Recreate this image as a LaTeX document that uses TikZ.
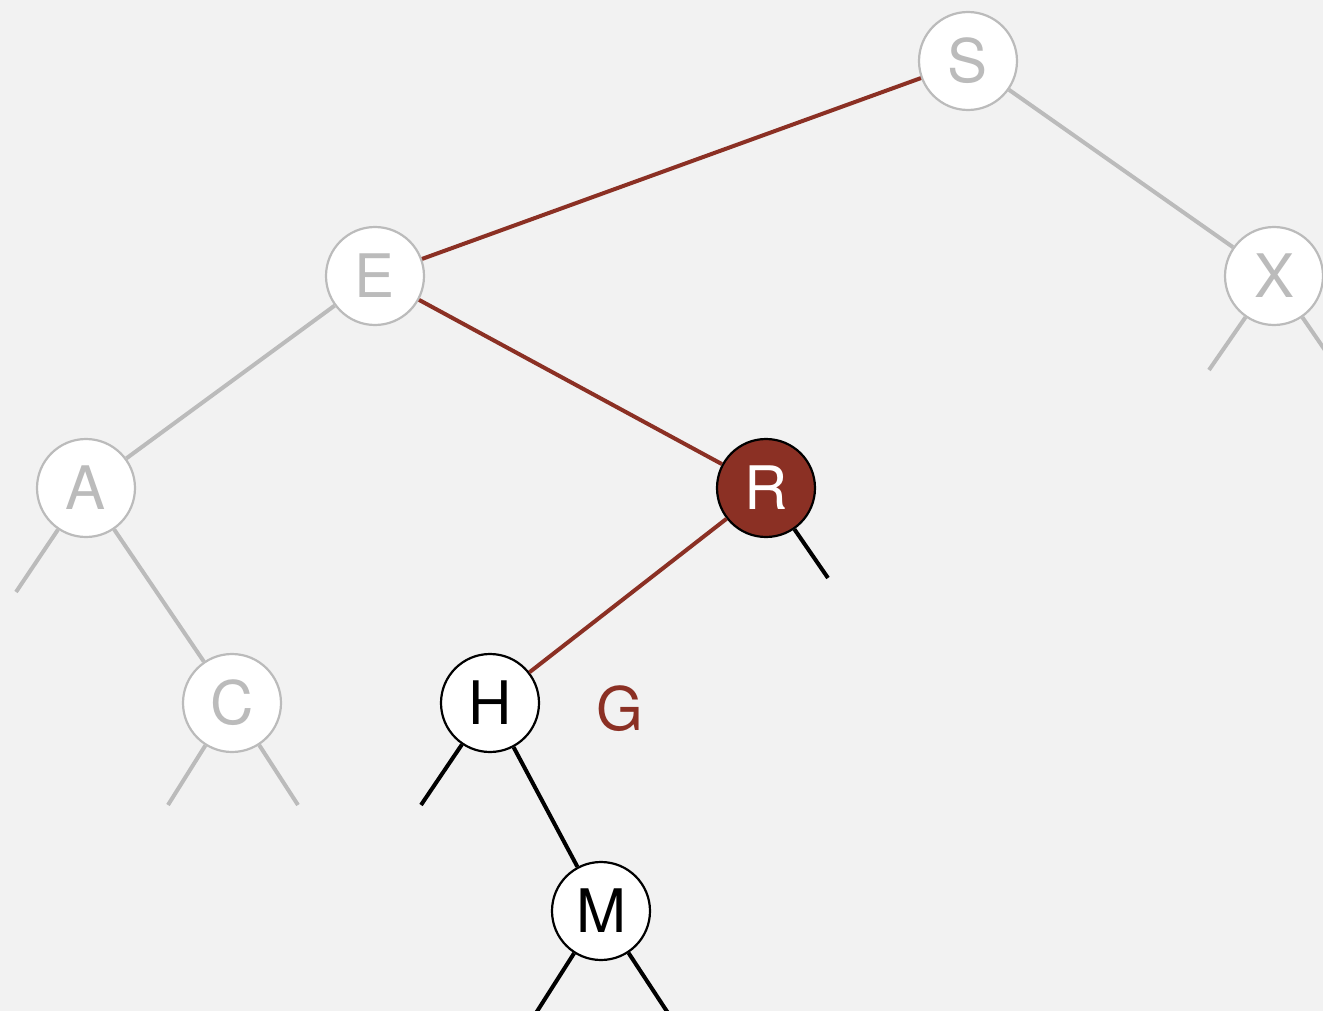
\documentclass[tikz,border=0pt]{standalone}
\usepackage{fontspec}
\setmainfont{TeX Gyre Heros}
\usetikzlibrary{graphs}

\definecolor{bgcol}{HTML}{F2F2F2}
\definecolor{fadecol}{HTML}{BBBBBB}
\definecolor{pathcol}{HTML}{8B3024}

\tikzset{
    keynode/.style={circle, draw, line width=1.1pt, fill=white, minimum size=49pt, inner sep=0pt, font=\fontsize{30}{36}\selectfont},
    fadenode/.style={keynode, draw=fadecol, text=fadecol},
    hitnode/.style={keynode, fill=pathcol, text=white},
    fadelink/.style={draw=fadecol, line width=2pt},
    pathlink/.style={draw=pathcol, line width=2pt},
    keylink/.style={draw=black, line width=2pt},
}

\begin{document}
\begin{tikzpicture}[x=0.5pt, y=-0.5pt]
    \fill[bgcol] (0,0) rectangle (1323,1011);
    \useasboundingbox (0,0) rectangle (1323,1011);
    \clip (0,0) rectangle (1323,1011);

    \node[fadenode] (S) at (968,61)  {S};
    \node[fadenode] (E) at (375,276) {E};
    \node[fadenode] (X) at (1274,276) {X};
    \node[fadenode] (A) at (86,488)  {A};
    \node[hitnode]  (R) at (766,488) {R};
    \node[fadenode] (C) at (232,703) {C};
    \node[keynode]  (H) at (490,703) {H};
    \node[keynode]  (M) at (601,911) {M};
    \node[text=pathcol, font=\fontsize{30}{36}\selectfont] (G) at (620,709) {G};

    % empty links
    \coordinate (X left)  at (1209,370);
    \coordinate (X right) at (1340,372);
    \coordinate (A left)  at (16,592);
    \coordinate (C left)  at (168,805);
    \coordinate (C right) at (298,805);
    \coordinate (R right) at (828,578);
    \coordinate (H left)  at (421,805);
    \coordinate (M left)  at (536,1013);
    \coordinate (M right) at (668,1013);

    \graph[edges={fadelink}]{
        (S) -- (X);
        (E) -- (A) -- (C);
        (X) -- (X left);
        (X) -- (X right);
        (A) -- (A left);
        (C) -- (C left);
        (C) -- (C right);
    };
    \graph[edges={pathlink}]{
        (S) -- (E) -- (R) -- (H);
    };
    \graph[edges={keylink}]{
        (R) -- (R right);
        (H) -- (H left);
        (H) -- (M);
        (M) -- (M left);
        (M) -- (M right);
    };
\end{tikzpicture}
\end{document}
